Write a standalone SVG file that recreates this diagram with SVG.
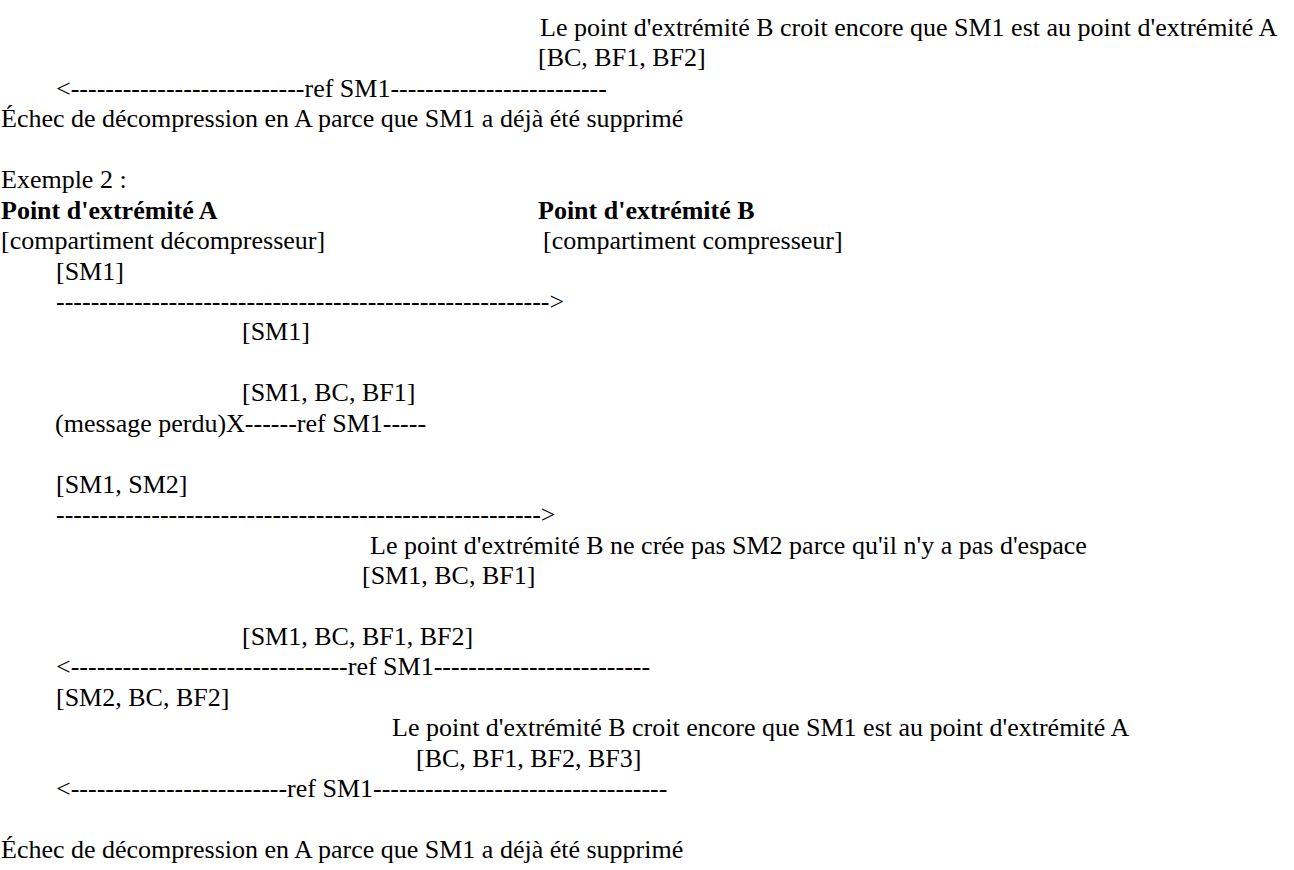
<svg xmlns="http://www.w3.org/2000/svg" width="1294" height="870" viewBox="0 0 1294 870" font-family="'Liberation Serif', 'DejaVu Serif', 'Times New Roman', serif" font-size="26">
<style>
text { font-family: 'Liberation Serif', 'DejaVu Serif', 'Times New Roman', serif; font-size: 26px; fill: #000000; }
.b { font-weight: bold; }
</style>
<rect width="1294" height="870" fill="#ffffff"/>
<g id="example1-tail">
  <text x="540" y="36">Le point d'extrémité B croit encore que SM1 est au point d'extrémité A</text>
  <text x="538" y="66.4">[BC, BF1, BF2]</text>
  <text x="1" y="127.3">Échec de décompression en A parce que SM1 a déjà été supprimé</text>
</g>
<g id="title">
  <text x="1" y="188.2">Exemple 2 :</text>
</g>
<g id="endpoint-a">
  <text class="b" x="1" y="218.6">Point d'extrémité A</text>
  <text x="1" y="249.1">[compartiment décompresseur]</text>
</g>
<g id="endpoint-b">
  <text class="b" x="538" y="218.6">Point d'extrémité B</text>
  <text x="543" y="249.1">[compartiment compresseur]</text>
</g>
<g id="states">
  <text x="56" y="279.5">[SM1]</text>
  <text x="242" y="340.4">[SM1]</text>
  <text x="242" y="401.3">[SM1, BC, BF1]</text>
  <text x="56" y="492.6">[SM1, SM2]</text>
  <text x="370" y="553.5">Le point d'extrémité B ne crée pas SM2 parce qu'il n'y a pas d'espace</text>
  <text x="362" y="583.9">[SM1, BC, BF1]</text>
  <text x="242" y="644.8">[SM1, BC, BF1, BF2]</text>
  <text x="56" y="705.7">[SM2, BC, BF2]</text>
  <text x="392" y="736.1">Le point d'extrémité B croit encore que SM1 est au point d'extrémité A</text>
  <text x="416" y="766.6">[BC, BF1, BF2, BF3]</text>
  <text x="1" y="857.9">Échec de décompression en A parce que SM1 a déjà été supprimé</text>
</g>
<g id="connectors">
  <text x="56" y="96.9">&lt;<tspan>-----</tspan><tspan>-----</tspan><tspan>-----</tspan><tspan>-----</tspan><tspan>-----</tspan><tspan>--</tspan>ref SM1<tspan>-----</tspan><tspan>-----</tspan><tspan>-----</tspan><tspan>-----</tspan><tspan>-----</tspan></text>
  <text x="56" y="310">---------------------------------------------------------&gt;</text>
  <text x="55" y="431.7">(message perdu)X------ref SM1-----</text>
  <text x="56" y="523">--------------------------------------------------------&gt;</text>
  <text x="56" y="675.2">&lt;--------------------------------ref SM1-------------------------</text>
  <text x="56" y="797">&lt;-------------------------ref SM1----------------------------------</text>
</g>
</svg>
